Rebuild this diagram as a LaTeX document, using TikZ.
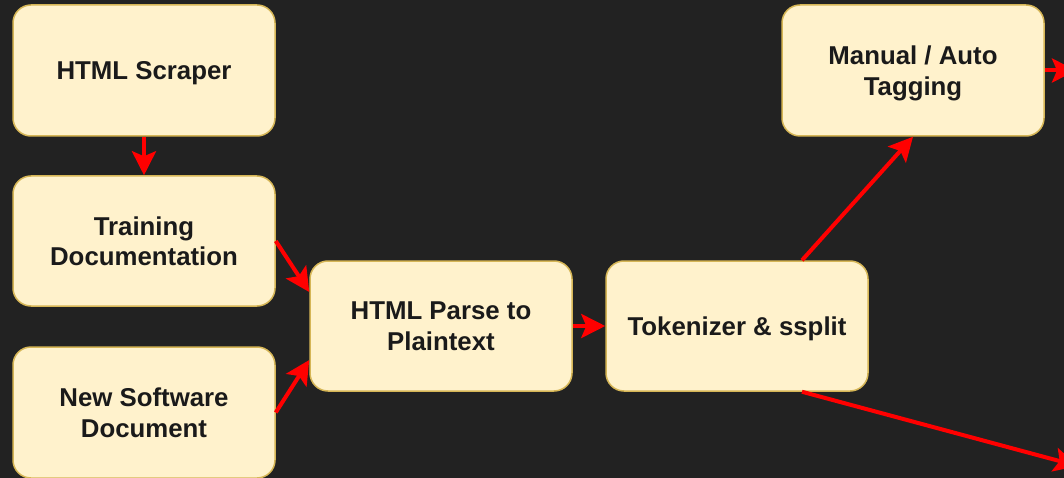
\documentclass[tikz,border=0pt]{standalone}
\usepackage{fontspec}
\setmainfont{Liberation Sans}
\usetikzlibrary{arrows.meta}
\definecolor{bg}{HTML}{222222}
\definecolor{boxfill}{HTML}{FFF2CC}
\definecolor{boxdraw}{HTML}{D6B656}
\definecolor{arr}{HTML}{FF0000}
\definecolor{txt}{HTML}{1A1A1A}
\tikzset{
  box/.style={draw=boxdraw, fill=boxfill, line width=1.5pt, rounded corners=18pt,
    minimum width=262pt, minimum height=131pt, align=center, inner sep=0pt,
    text depth=-6pt, text=txt, font=\fontsize{25.8}{30.5}\selectfont\bfseries},
  link/.style={draw=arr, line width=4pt, -{Stealth[length=24pt,width=24pt,inset=5pt]}},
}
\begin{document}
\begin{tikzpicture}[x=1pt,y=-1pt]
\useasboundingbox (0,0) rectangle (1064,478);
\clip (0,0) rectangle (1064,478);
\fill[bg] (0,0) rectangle (1064,478);

\node[box] (scraper) at (144,70.5) {HTML Scraper};
\node[box, minimum height=130pt] (train) at (144,241) {Training\\Documentation};
\node[box] (nsd) at (144,412.5) {New Software\\Document};
\node[box, minimum height=130pt] (parse) at (441,326) {HTML Parse to\\Plaintext};
\node[box, minimum height=130pt] (tok) at (737,326) {Tokenizer \& ssplit};
\node[box] (tag) at (913,70.5) {Manual / Auto\\Tagging};

\coordinate (outA) at (1076,70.5);
\coordinate (outB) at (1078,466);

\draw[link] (scraper.south) -- (train.north);
\draw[link] (train.east) -- ([yshift=34pt]parse.west);
\draw[link] (nsd.east) -- ([yshift=-34pt]parse.west);
\draw[link] (parse.east) -- (tok.west);
\draw[link] ([xshift=65pt]tok.north) -- (tag.south);
\draw[link] ([xshift=65pt]tok.south) -- (outB);
\draw[link] (tag.east) -- (outA);
\end{tikzpicture}
\end{document}
